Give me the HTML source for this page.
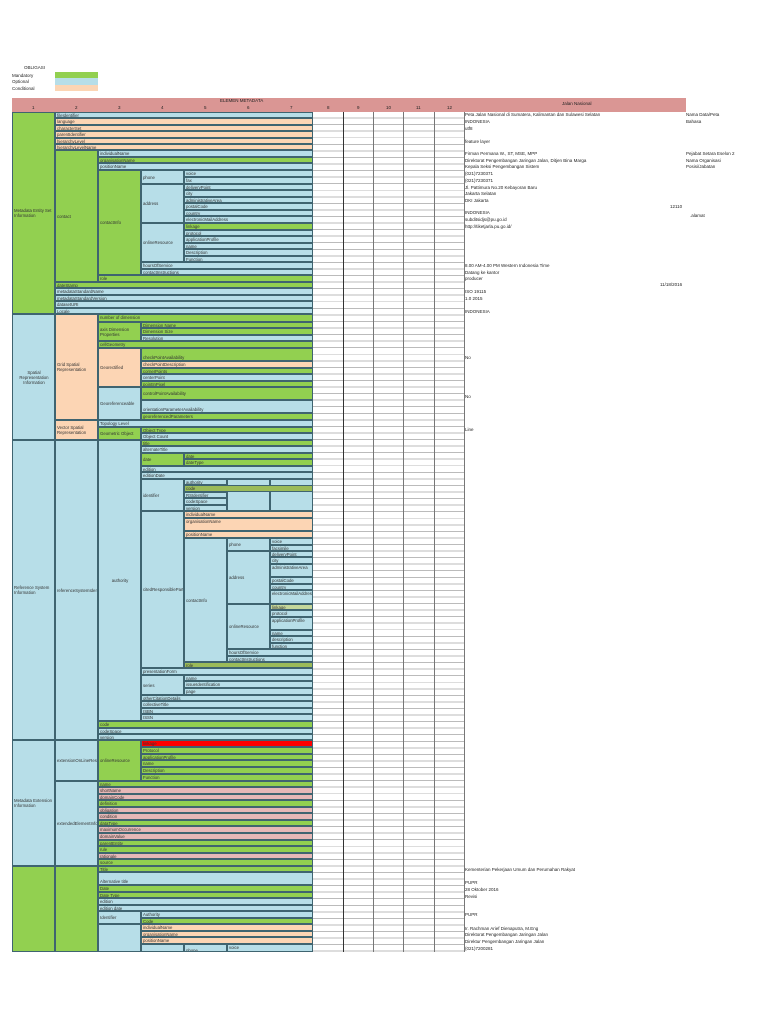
<!DOCTYPE html>
<html><head><meta charset="utf-8"><style>
*{margin:0;padding:0}
body{width:768px;height:1024px;background:#fff;position:relative;overflow:hidden;font-family:"Liberation Sans",sans-serif;color:#333}
.c{position:absolute;box-sizing:border-box;border:0.6px solid #3f6470;font-size:4.3px;line-height:5.5px;padding-left:1px;overflow:hidden;white-space:nowrap}
.m{display:flex;align-items:center;white-space:normal;line-height:5px}
.g{background:#92d050}.b{background:#b7dee8}.p{background:#fcd5b4}.k{background:#e6b8b7}.r{background:#ff0000}.o{background:#9bbb59}.q{background:#c4d79b}
.t{position:absolute;font-size:4.5px;line-height:5px;white-space:nowrap;color:#222}
</style></head><body>
<div class="t" style="left:24px;top:65px">OBLIGASI</div>
<div class="t" style="left:12px;top:73px">Mandatory</div>
<div class="t" style="left:12px;top:79px">Optional</div>
<div class="t" style="left:12px;top:86px">Conditional</div>
<div style="position:absolute;left:55px;top:72px;width:43px;height:6px;background:#92d050"></div>
<div style="position:absolute;left:55px;top:78px;width:43px;height:7px;background:#b7dee8"></div>
<div style="position:absolute;left:55px;top:85px;width:43px;height:6px;background:#fcd5b4"></div>

<!-- header -->
<div style="position:absolute;left:12px;top:98px;width:674px;height:14px;background:#da9694"></div>
<div class="t" style="left:220px;top:98px">ELEMEN METADATA</div>
<div class="t" style="left:32px;top:105px">1</div><div class="t" style="left:75px;top:105px">2</div><div class="t" style="left:118px;top:105px">3</div><div class="t" style="left:161px;top:105px">4</div><div class="t" style="left:204px;top:105px">5</div><div class="t" style="left:247px;top:105px">6</div><div class="t" style="left:290px;top:105px">7</div><div class="t" style="left:327px;top:105px">8</div><div class="t" style="left:357px;top:105px">9</div><div class="t" style="left:386px;top:105px">10</div><div class="t" style="left:416px;top:105px">11</div><div class="t" style="left:447px;top:105px">12</div>
<div class="t" style="left:562px;top:101px">Jalan Nasional</div>

<!-- right grid -->
<div style="position:absolute;left:313px;top:112px;width:151px;height:840px;background:repeating-linear-gradient(to bottom,#fff 0,#fff 5.6px,#bbb 5.6px,#bbb 6.56px)"></div>
<div style="position:absolute;left:343px;top:112px;width:1px;height:840px;background:#333"></div>
<div style="position:absolute;left:373px;top:112px;width:1px;height:840px;background:#777"></div>
<div style="position:absolute;left:403px;top:112px;width:1px;height:840px;background:#777"></div>
<div style="position:absolute;left:434px;top:112px;width:1px;height:840px;background:#777"></div>
<div style="position:absolute;left:464px;top:112px;width:1px;height:840px;background:#777"></div>

<!-- Section 1 -->
<div class="c g m" style="left:12px;top:112px;width:43px;height:202px">Metadata Entity Set Information</div>
<div class="c b" style="left:55px;top:112px;width:258px;height:6px">fileIdentifier</div>
<div class="c p" style="left:55px;top:118px;width:258px;height:7px">language</div>
<div class="c p" style="left:55px;top:125px;width:258px;height:6px">characterSet</div>
<div class="c p" style="left:55px;top:131px;width:258px;height:7px">parentIdentifier</div>
<div class="c p" style="left:55px;top:138px;width:258px;height:6px">hierarchyLevel</div>
<div class="c p" style="left:55px;top:144px;width:258px;height:6px">hierarchyLevelName</div>
<div class="c g m" style="left:55px;top:150px;width:43px;height:132px">contact</div>
<div class="c b" style="left:98px;top:150px;width:215px;height:7px">individualName</div>
<div class="c g" style="left:98px;top:157px;width:215px;height:6px">organisationName</div>
<div class="c b" style="left:98px;top:163px;width:215px;height:7px">positionName</div>
<div class="c g m" style="left:98px;top:170px;width:43px;height:105px">contactInfo</div>
<div class="c b m" style="left:141px;top:170px;width:43px;height:14px">phone</div>
<div class="c b" style="left:184px;top:170px;width:129px;height:7px">voice</div>
<div class="c b" style="left:184px;top:177px;width:129px;height:7px">fax</div>
<div class="c b m" style="left:141px;top:184px;width:43px;height:39px">address</div>
<div class="c b" style="left:184px;top:184px;width:129px;height:6px">deliveryPoint</div>
<div class="c b" style="left:184px;top:190px;width:129px;height:7px">city</div>
<div class="c b" style="left:184px;top:197px;width:129px;height:6px">administrativeArea</div>
<div class="c b" style="left:184px;top:203px;width:129px;height:7px">postalCode</div>
<div class="c b" style="left:184px;top:210px;width:129px;height:6px">country</div>
<div class="c b" style="left:184px;top:216px;width:129px;height:7px">electronicMailAddress</div>
<div class="c b m" style="left:141px;top:223px;width:43px;height:39px">onlineResource</div>
<div class="c g" style="left:184px;top:223px;width:129px;height:7px">linkage</div>
<div class="c b" style="left:184px;top:230px;width:129px;height:6px">protocol</div>
<div class="c b" style="left:184px;top:236px;width:129px;height:7px">applicationProfile</div>
<div class="c b" style="left:184px;top:243px;width:129px;height:6px">name</div>
<div class="c b" style="left:184px;top:249px;width:129px;height:7px">Description</div>
<div class="c b" style="left:184px;top:256px;width:129px;height:6px">Function</div>
<div class="c b" style="left:141px;top:262px;width:172px;height:7px">hoursOfService</div>
<div class="c b" style="left:141px;top:269px;width:172px;height:6px">contactInstructions</div>
<div class="c g" style="left:98px;top:275px;width:215px;height:7px">role</div>
<div class="c g" style="left:55px;top:282px;width:258px;height:6px">dateStamp</div>
<div class="c b" style="left:55px;top:288px;width:258px;height:7px">metadataStandardName</div>
<div class="c b" style="left:55px;top:295px;width:258px;height:6px">metadataStandardVersion</div>
<div class="c b" style="left:55px;top:301px;width:258px;height:7px">datasetURI</div>
<div class="c b" style="left:55px;top:308px;width:258px;height:6px">Locale</div>

<!-- Section 2 -->
<div class="c b m" style="left:12px;top:314px;width:43px;height:126px;text-align:center;justify-content:center">Spatial Representation Information</div>
<div class="c p m" style="left:55px;top:314px;width:43px;height:106px">Grid Spatial Representation</div>
<div class="c g" style="left:98px;top:314px;width:215px;height:8px">number of dimension</div>
<div class="c g m" style="left:98px;top:322px;width:43px;height:19px">axis Dimension Properties</div>
<div class="c g" style="left:141px;top:322px;width:172px;height:6px">Dimension Name</div>
<div class="c g" style="left:141px;top:328px;width:172px;height:7px">Dimension Size</div>
<div class="c b" style="left:141px;top:335px;width:172px;height:6px">Resolution</div>
<div class="c g" style="left:98px;top:341px;width:215px;height:7px">cellGeometry</div>
<div class="c p m" style="left:98px;top:348px;width:43px;height:39px">Georectified</div>
<div class="c g" style="left:141px;top:348px;width:172px;height:13px;padding-top:6px">checkPointAvailability</div>
<div class="c p" style="left:141px;top:361px;width:172px;height:7px">checkPointDescription</div>
<div class="c g" style="left:141px;top:368px;width:172px;height:6px">cornerPoints</div>
<div class="c b" style="left:141px;top:374px;width:172px;height:7px">centerPoint</div>
<div class="c g" style="left:141px;top:381px;width:172px;height:6px">pointInPixel</div>
<div class="c b m" style="left:98px;top:387px;width:43px;height:33px">Georeferenceable</div>
<div class="c g m" style="left:141px;top:387px;width:172px;height:13px">controlPointAvailability</div>
<div class="c b" style="left:141px;top:400px;width:172px;height:13px;padding-top:6px">orientationParameterAvailability</div>
<div class="c g" style="left:141px;top:413px;width:172px;height:7px">georeferencedParameters</div>
<div class="c p m" style="left:55px;top:420px;width:43px;height:20px">Vector Spatial Representation</div>
<div class="c b" style="left:98px;top:420px;width:215px;height:7px">Topology Level</div>
<div class="c g m" style="left:98px;top:427px;width:43px;height:13px">Geometric Object</div>
<div class="c g" style="left:141px;top:427px;width:172px;height:6px">Object Type</div>
<div class="c b" style="left:141px;top:433px;width:172px;height:7px">Object Count</div>

<!-- Section 3 -->
<div class="c b m" style="left:12px;top:440px;width:43px;height:300px">Reference System Information</div>
<div class="c b m" style="left:55px;top:440px;width:43px;height:300px">referenceSystemIdentifier</div>
<div class="c b m" style="left:98px;top:440px;width:43px;height:281px;justify-content:center">authority</div>
<div class="c g" style="left:141px;top:440px;width:172px;height:6px">title</div>
<div class="c b" style="left:141px;top:446px;width:172px;height:7px">alternateTitle</div>
<div class="c g m" style="left:141px;top:453px;width:43px;height:13px">date</div>
<div class="c g" style="left:184px;top:453px;width:129px;height:6px">date</div>
<div class="c g" style="left:184px;top:459px;width:129px;height:7px">dateType</div>
<div class="c b" style="left:141px;top:466px;width:172px;height:6px">edition</div>
<div class="c b" style="left:141px;top:472px;width:172px;height:7px">editionDate</div>
<div class="c b m" style="left:141px;top:479px;width:43px;height:32px">identifier</div>
<div class="c b" style="left:184px;top:479px;width:43px;height:6px">authority</div>
<div class="c b" style="left:227px;top:479px;width:43px;height:32px"></div>
<div class="c b" style="left:270px;top:479px;width:43px;height:32px"></div>
<div class="c o" style="left:184px;top:485px;width:129px;height:7px">code</div>
<div class="c b" style="left:184px;top:492px;width:43px;height:6px">RSIdentifier</div>
<div class="c b" style="left:184px;top:498px;width:43px;height:7px">codeSpace</div>
<div class="c b" style="left:184px;top:505px;width:43px;height:6px">version</div>
<div class="c b m" style="left:141px;top:511px;width:43px;height:157px">citedResponsibleParty</div>
<div class="c p" style="left:184px;top:511px;width:129px;height:7px">individualName</div>
<div class="c p" style="left:184px;top:518px;width:129px;height:13px">organisationName</div>
<div class="c p" style="left:184px;top:531px;width:129px;height:7px">positionName</div>
<div class="c b m" style="left:184px;top:538px;width:43px;height:124px">contactInfo</div>
<div class="c b m" style="left:227px;top:538px;width:43px;height:13px">phone</div>
<div class="c b" style="left:270px;top:538px;width:43px;height:7px">voice</div>
<div class="c b" style="left:270px;top:545px;width:43px;height:6px">facsimile</div>
<div class="c b m" style="left:227px;top:551px;width:43px;height:53px">address</div>
<div class="c b" style="left:270px;top:551px;width:43px;height:6px">deliveryPoint</div>
<div class="c b" style="left:270px;top:557px;width:43px;height:7px">city</div>
<div class="c b" style="left:270px;top:564px;width:43px;height:13px">administrativeArea</div>
<div class="c b" style="left:270px;top:577px;width:43px;height:7px">postalCode</div>
<div class="c b" style="left:270px;top:584px;width:43px;height:6px">country</div>
<div class="c b" style="left:270px;top:590px;width:43px;height:14px;white-space:normal;line-height:5px">electronicMailAddress</div>
<div class="c b m" style="left:227px;top:604px;width:43px;height:45px">onlineResource</div>
<div class="c q" style="left:270px;top:604px;width:43px;height:6px">linkage</div>
<div class="c b" style="left:270px;top:610px;width:43px;height:7px">protocol</div>
<div class="c b" style="left:270px;top:617px;width:43px;height:13px">applicationProfile</div>
<div class="c b" style="left:270px;top:630px;width:43px;height:6px">name</div>
<div class="c b" style="left:270px;top:636px;width:43px;height:7px">description</div>
<div class="c b" style="left:270px;top:643px;width:43px;height:6px">function</div>
<div class="c b" style="left:227px;top:649px;width:86px;height:7px">hoursOfService</div>
<div class="c b" style="left:227px;top:656px;width:86px;height:6px">contactInstructions</div>
<div class="c o" style="left:184px;top:662px;width:129px;height:6px">role</div>
<div class="c b" style="left:141px;top:668px;width:172px;height:7px">presentationForm</div>
<div class="c b m" style="left:141px;top:675px;width:43px;height:20px">series</div>
<div class="c b" style="left:184px;top:675px;width:129px;height:6px">name</div>
<div class="c b" style="left:184px;top:681px;width:129px;height:7px">issueIdentification</div>
<div class="c b" style="left:184px;top:688px;width:129px;height:7px">page</div>
<div class="c b" style="left:141px;top:695px;width:172px;height:6px">otherCitationDetails</div>
<div class="c b" style="left:141px;top:701px;width:172px;height:7px">collectiveTitle</div>
<div class="c b" style="left:141px;top:708px;width:172px;height:6px">ISBN</div>
<div class="c b" style="left:141px;top:714px;width:172px;height:7px">ISSN</div>
<div class="c g" style="left:98px;top:721px;width:215px;height:7px">code</div>
<div class="c b" style="left:98px;top:728px;width:215px;height:6px">codeSpace</div>
<div class="c b" style="left:98px;top:734px;width:215px;height:6px">version</div>

<!-- Section 4 -->
<div class="c b m" style="left:12px;top:740px;width:43px;height:126px">Metadata Extension Information</div>
<div class="c b m" style="left:55px;top:740px;width:43px;height:41px">extensionOnLineResource</div>
<div class="c g m" style="left:98px;top:740px;width:43px;height:41px">onlineResource</div>
<div class="c r" style="left:141px;top:740px;width:172px;height:7px">linkage</div>
<div class="c g" style="left:141px;top:747px;width:172px;height:7px">Protocol</div>
<div class="c g" style="left:141px;top:754px;width:172px;height:6px">applicationProfile</div>
<div class="c g" style="left:141px;top:760px;width:172px;height:7px">name</div>
<div class="c g" style="left:141px;top:767px;width:172px;height:7px">Description</div>
<div class="c g" style="left:141px;top:774px;width:172px;height:7px">Function</div>
<div class="c b m" style="left:55px;top:781px;width:43px;height:85px">extendedElementInformation</div>
<div class="c g" style="left:98px;top:781px;width:215px;height:6px">name</div>
<div class="c k" style="left:98px;top:787px;width:215px;height:7px">shortName</div>
<div class="c k" style="left:98px;top:794px;width:215px;height:6px">domainCode</div>
<div class="c g" style="left:98px;top:800px;width:215px;height:7px">definition</div>
<div class="c k" style="left:98px;top:807px;width:215px;height:6px">obligation</div>
<div class="c k" style="left:98px;top:813px;width:215px;height:7px">condition</div>
<div class="c g" style="left:98px;top:820px;width:215px;height:6px">dataType</div>
<div class="c k" style="left:98px;top:826px;width:215px;height:7px">maximumOccurrence</div>
<div class="c k" style="left:98px;top:833px;width:215px;height:7px">domainValue</div>
<div class="c g" style="left:98px;top:840px;width:215px;height:6px">parentEntity</div>
<div class="c g" style="left:98px;top:846px;width:215px;height:7px">rule</div>
<div class="c k" style="left:98px;top:853px;width:215px;height:6px">rationale</div>
<div class="c g" style="left:98px;top:859px;width:215px;height:7px">source</div>

<!-- Section 5 -->
<div class="c g" style="left:12px;top:866px;width:43px;height:86px"></div>
<div class="c g" style="left:55px;top:866px;width:43px;height:86px"></div>
<div class="c g" style="left:98px;top:866px;width:215px;height:6px">Title</div>
<div class="c b" style="left:98px;top:872px;width:215px;height:13px;padding-top:6px">Alternative title</div>
<div class="c g" style="left:98px;top:885px;width:215px;height:7px">Date</div>
<div class="c g" style="left:98px;top:892px;width:215px;height:6px">Date Type</div>
<div class="c b" style="left:98px;top:898px;width:215px;height:7px">edition</div>
<div class="c b" style="left:98px;top:905px;width:215px;height:6px">edition date</div>
<div class="c b m" style="left:98px;top:911px;width:43px;height:13px">Identifier</div>
<div class="c b" style="left:141px;top:911px;width:172px;height:7px">Authority</div>
<div class="c g" style="left:141px;top:918px;width:172px;height:6px">Code</div>
<div class="c b" style="left:98px;top:924px;width:43px;height:28px"></div>
<div class="c p" style="left:141px;top:924px;width:172px;height:7px">individualName</div>
<div class="c p" style="left:141px;top:931px;width:172px;height:6px">organisationName</div>
<div class="c p" style="left:141px;top:937px;width:172px;height:7px">positionName</div>
<div class="c b" style="left:141px;top:944px;width:43px;height:8px"></div>
<div class="c b" style="left:184px;top:944px;width:43px;height:8px;padding-top:3px">phone</div>
<div class="c b" style="left:227px;top:944px;width:86px;height:8px">voice</div>

<!-- right texts -->
<div class="t" style="left:465px;top:112px">Peta Jalan Nasional di Sumatera, Kalimantan dan Sulawesi Selatan</div>
<div class="t" style="left:686px;top:112px">Nama Data/Peta</div>
<div class="t" style="left:465px;top:119px">INDONESIA</div>
<div class="t" style="left:686px;top:119px">Bahasa</div>
<div class="t" style="left:465px;top:126px">utf8</div>
<div class="t" style="left:465px;top:139px">feature layer</div>
<div class="t" style="left:465px;top:151px">Firman Permana W., ST, MSE, MPP</div>
<div class="t" style="left:686px;top:151px">Pejabat Setara Eselon 2</div>
<div class="t" style="left:465px;top:158px">Direktorat Pengembangan Jaringan Jalan, Ditjen Bina Marga</div>
<div class="t" style="left:686px;top:158px">Nama Organisasi</div>
<div class="t" style="left:465px;top:164px">Kepala Seksi Pengembangan Sistem</div>
<div class="t" style="left:686px;top:164px">Posisi/Jabatan</div>
<div class="t" style="left:465px;top:171px">(021)7230371</div>
<div class="t" style="left:465px;top:178px">(021)7230371</div>
<div class="t" style="left:465px;top:185px">Jl. Pattimura No.20 Kebayoran Baru</div>
<div class="t" style="left:465px;top:191px">Jakarta Selatan</div>
<div class="t" style="left:465px;top:198px">DKI Jakarta</div>
<div class="t" style="left:670px;top:204px">12110</div>
<div class="t" style="left:465px;top:210px">INDONESIA</div>
<div class="t" style="left:690px;top:213px">.alamat</div>
<div class="t" style="left:465px;top:217px">subditsidjs@pu.go.id</div>
<div class="t" style="left:465px;top:224px">http://tiketjarla.pu.go.id/</div>
<div class="t" style="left:465px;top:263px">8.00 AM-4.00 PM Western Indonesia Time</div>
<div class="t" style="left:465px;top:270px">Datang ke kantor</div>
<div class="t" style="left:465px;top:276px">producer</div>
<div class="t" style="left:660px;top:282px">11/18/2016</div>
<div class="t" style="left:465px;top:289px">ISO 19115</div>
<div class="t" style="left:465px;top:296px">1.0 2015</div>
<div class="t" style="left:465px;top:309px">INDONESIA</div>
<div class="t" style="left:465px;top:355px">No</div>
<div class="t" style="left:465px;top:394px">No</div>
<div class="t" style="left:465px;top:427px">Line</div>
<div class="t" style="left:465px;top:867px">Kementerian Pekerjaan Umum dan Perumahan Rakyat</div>
<div class="t" style="left:465px;top:880px">PUPR</div>
<div class="t" style="left:465px;top:887px">28 Oktober 2016</div>
<div class="t" style="left:465px;top:894px">Revisi</div>
<div class="t" style="left:465px;top:912px">PUPR</div>
<div class="t" style="left:465px;top:926px">Ir. Rachman Arief Dienaputra, M.Eng</div>
<div class="t" style="left:465px;top:932px">Direktorat Pengembangan Jaringan Jalan</div>
<div class="t" style="left:465px;top:939px">Direktur Pengembangan Jaringan Jalan</div>
<div class="t" style="left:465px;top:946px">(021)7200281</div>
</body></html>
